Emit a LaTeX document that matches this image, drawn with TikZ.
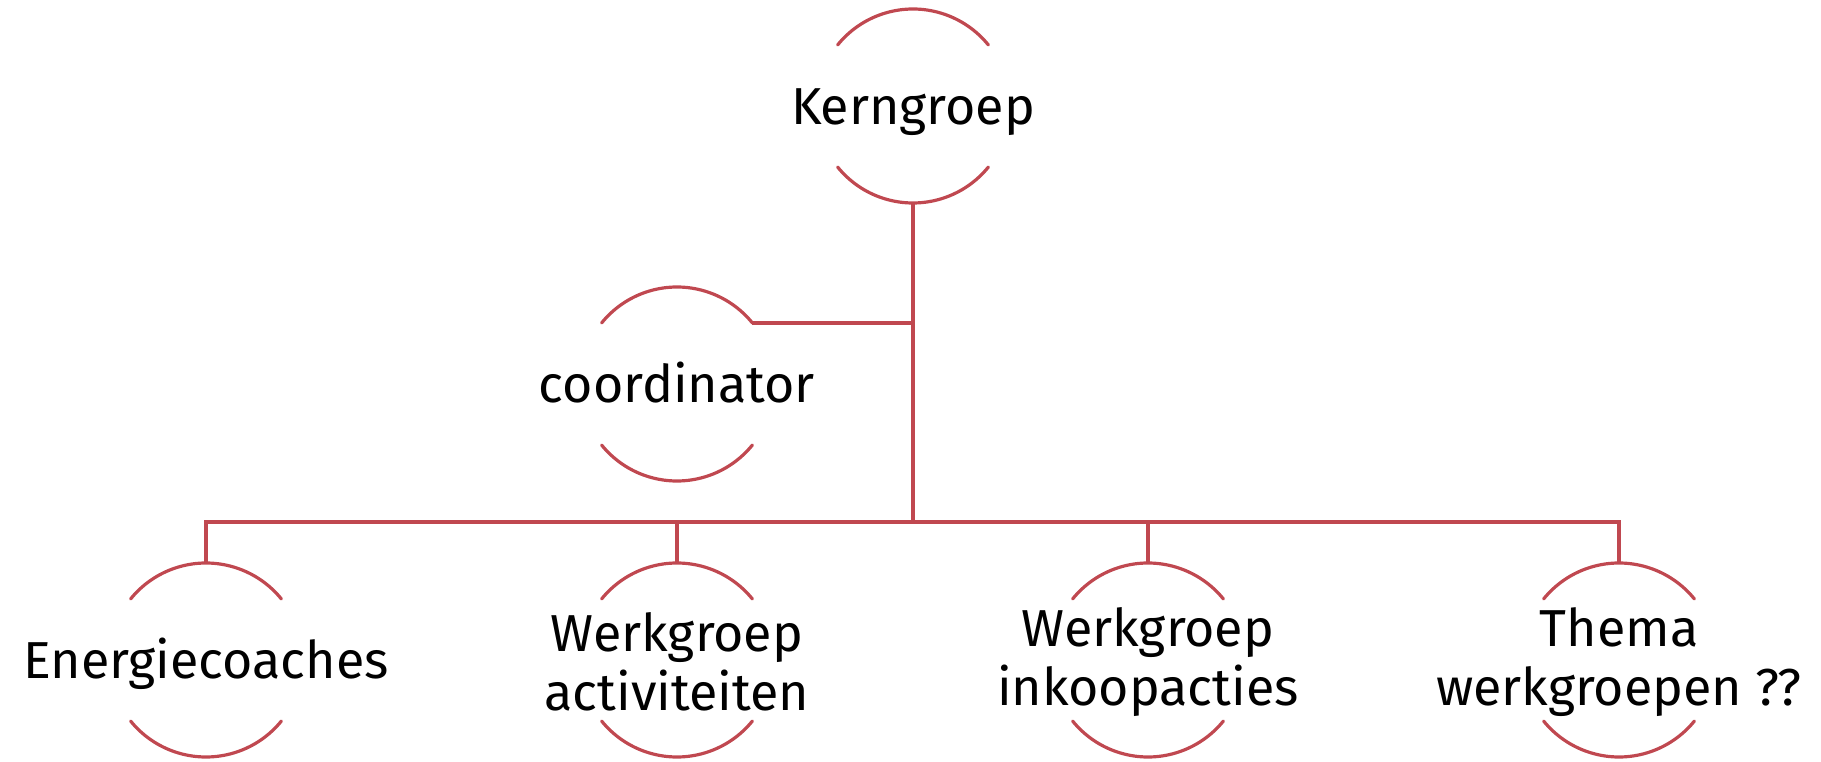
\documentclass[tikz,border=0pt]{standalone}
\usepackage{fontspec}
\setmainfont{Fira Sans}
\definecolor{linered}{RGB}{192,72,80}
\begin{document}
\begin{tikzpicture}[x=1pt,y=1pt,
  ring/.style={circle,draw=none,minimum size=194pt,inner sep=0pt,outer sep=0pt},
  txt/.style={align=center,font=\fontsize{52}{59}\selectfont,text=black,inner sep=0pt},
  conn/.style={draw=linered,line width=3.2pt},
  arcs/.style={draw=linered,line width=3.2pt,line cap=round}]
\useasboundingbox (0,0) rectangle (1821,761);
\node[ring] (k) at (913,655) {};
\node[ring] (c) at (677,377) {};
\node[ring] (e) at (206,101) {};
\node[ring] (wa) at (677,101) {};
\node[ring] (wi) at (1148,101) {};
\node[ring] (t) at (1619,101) {};
\foreach \n in {k,c,e,wa,wi,t}{
  \draw[arcs] (\n.141) arc[start angle=141,end angle=39,radius=97pt];
  \draw[arcs] (\n.-141) arc[start angle=-141,end angle=-39,radius=97pt];
}
\node[txt] (kt) at ([yshift=-6pt]k.center) {Kerngroep};
\node[txt] (ct) at ([yshift=1pt]c.center) {coordinator};
\node[txt] (et) at ([yshift=-4pt]e.center) {Energiecoaches};
\node[txt] (wat) at ([yshift=-2pt]wa.center) {Werkgroep\\activiteiten};
\node[txt] (wit) at ([yshift=-2pt]wi.center) {Werkgroep\\inkoopacties};
\node[txt] (tt) at ([yshift=-2pt]t.center) {Thema\\werkgroepen ??};
\coordinate (bus) at (913,239);
\draw[conn] (k.south) -- (bus);
\draw[conn] (c.39) -- (c.39 -| k.south);
\draw[conn] (e.north) |- (bus) -| (t.north);
\draw[conn] (wa.north) -- (wa.north |- bus);
\draw[conn] (wi.north) -- (wi.north |- bus);
\end{tikzpicture}
\end{document}
